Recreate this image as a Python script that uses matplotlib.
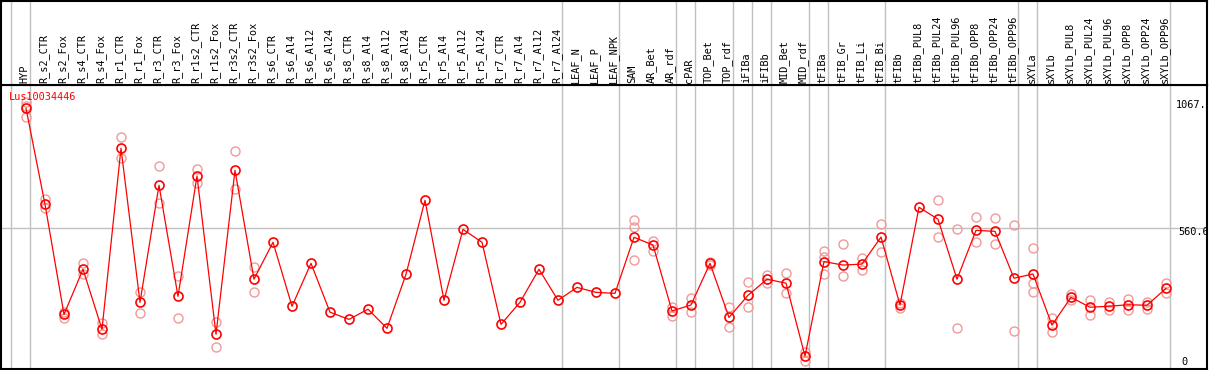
# Expression profile for Lus10034446 - means with replicate values
import matplotlib.pyplot as plt

samples = ["HYP", "R_s2_CTR", "R_s2_Fox", "R_s4_CTR", "R_s4_Fox", "R_r1_CTR", "R_r1_Fox",
           "R_r3_CTR", "R_r3_Fox", "R_r1s2_CTR", "R_r1s2_Fox", "R_r3s2_CTR", "R_r3s2_Fox",
           "R_s6_CTR", "R_s6_Al4", "R_s6_Al12", "R_s6_Al24", "R_s8_CTR", "R_s8_Al4",
           "R_s8_Al12", "R_s8_Al24", "R_r5_CTR", "R_r5_Al4", "R_r5_Al12", "R_r5_Al24",
           "R_r7_CTR", "R_r7_Al4", "R_r7_Al12", "R_r7_Al24", "LEAF_N", "LEAF_P", "LEAF_NPK",
           "SAM", "AR_Bet", "AR_rdf", "cPAR", "TOP_Bet", "TOP_rdf", "iFIBa", "iFIBb",
           "MID_Bet", "MID_rdf", "tFIBa", "tFIB_Gr", "tFIB_Li", "tFIB_Bi", "tFIBb",
           "tFIBb_PUL8", "tFIBb_PUL24", "tFIBb_PUL96", "tFIBb_OPP8", "tFIBb_OPP24",
           "tFIBb_OPP96", "sXYLa", "sXYLb", "sXYLb_PUL8", "sXYLb_PUL24", "sXYLb_PUL96",
           "sXYLb_OPP8", "sXYLb_OPP24", "sXYLb_OPP96"]

means = [1043, 656, 212, 394, 152, 882, 261, 733, 285, 770, 132, 793, 354,
         503, 245, 418, 221, 192, 233, 156, 374, 672, 269, 555, 503, 172, 261, 394, 269,
         321, 301, 297, 523, 492, 226, 250, 418, 200, 289, 354, 338, 44,
         425, 411, 415, 524, 250, 644, 596, 354, 551, 547, 358,
         375, 169, 281, 241, 245, 251, 249, 317]

replicates = [[1067, 1052, 1010], [676, 640], [223, 197], [418, 374], [176, 132],
              [926, 842], [301, 217], [809, 660], [368, 197], [797, 741], [180, 79],
              [871, 717], [403, 301], [], [], [], [], [], [], [], [], [], [], [], [],
              [], [], [], [], [], [], [], [593, 563, 431], [508, 469], [243, 207],
              [277, 223], [425, 411], [241, 160], [342, 241], [371, 338], [378, 297],
              [62, 25], [467, 445, 374], [495, 368], [438, 391], [575, 465], [258, 238],
              [], [673, 523], [555, 157], [604, 503], [600, 496], [573, 145],
              [479, 338, 301], [196, 140], [294, 270], [270, 208], [261, 230],
              [274, 230], [263, 234], [340, 297]]

# last sample index of each group (vertical separators)
group_ends = [-1, 0, 28, 31, 34, 35, 37, 38, 39, 41, 42, 45, 52, 53, 60]

gene = "Lus10034446"
y_tick_labels = ["1067.", "560.6", "0"]

W, H = 1209, 370
fig = plt.figure(figsize=(W / 100, H / 100), dpi=100)
font = "DejaVu Sans Mono"

xlim = ((1 - 26) / 19, (1207 - 26) / 19)

# main plot area
ax = fig.add_axes([1 / W, 1 / H, 1206 / W, 284 / H])
ax.set_xlim(*xlim)
ax.set_ylim((367 - 369) / 0.248, (367 - 85) / 0.248)

for ge in group_ends:
    ax.axvline(ge + 0.23, color="#c0c0c0", lw=1.0, zorder=0)
ax.axhline(560.6, color="#c0c0c0", lw=1.0, zorder=0)

x = list(range(len(samples)))
for i, reps in enumerate(replicates):
    if reps:
        ax.plot([i] * len(reps), reps, "o", ms=6.5, mfc="none", mec="#f09a9a", mew=1.0, zorder=2)
ax.plot(x, means, "-", color="red", lw=0.9, zorder=3)
ax.plot(x, means, "o", ms=6.5, mfc="none", mec="red", mew=1.2, zorder=4)

ax.text(8 / 1206, 1 - 12 / 284, gene, transform=ax.transAxes, color="red",
        family=font, fontsize=7.4, va="center", ha="left")

label_pos = [(1176, 105), (1178, 232), (1181, 362)]
for (px, py), lab in zip(label_pos, y_tick_labels):
    ax.text((px - 1) / 1206, (369 - py) / 284, lab, transform=ax.transAxes,
            family=font, fontsize=7.4, va="center", ha="left", color="black")

ax.set_xticks([])
ax.set_yticks([])
for s in ax.spines.values():
    s.set_color("black")
    s.set_linewidth(1.5)

# sample label strip on top
lab_ax = fig.add_axes([1 / W, 285 / H, 1206 / W, 84 / H])
lab_ax.set_xlim(*xlim)
lab_ax.set_ylim(0, 84)
for ge in group_ends:
    lab_ax.axvline(ge + 0.23, color="#c0c0c0", lw=1.0, zorder=0)
for i, name in enumerate(samples):
    lab_ax.text(i - 0.08, 2, name, rotation=90, family=font, fontsize=7.4,
                ha="center", va="bottom")
lab_ax.set_xticks([])
lab_ax.set_yticks([])
for s in lab_ax.spines.values():
    s.set_color("black")
    s.set_linewidth(1.5)

plt.savefig("out.png", dpi=100)
plt.close()
